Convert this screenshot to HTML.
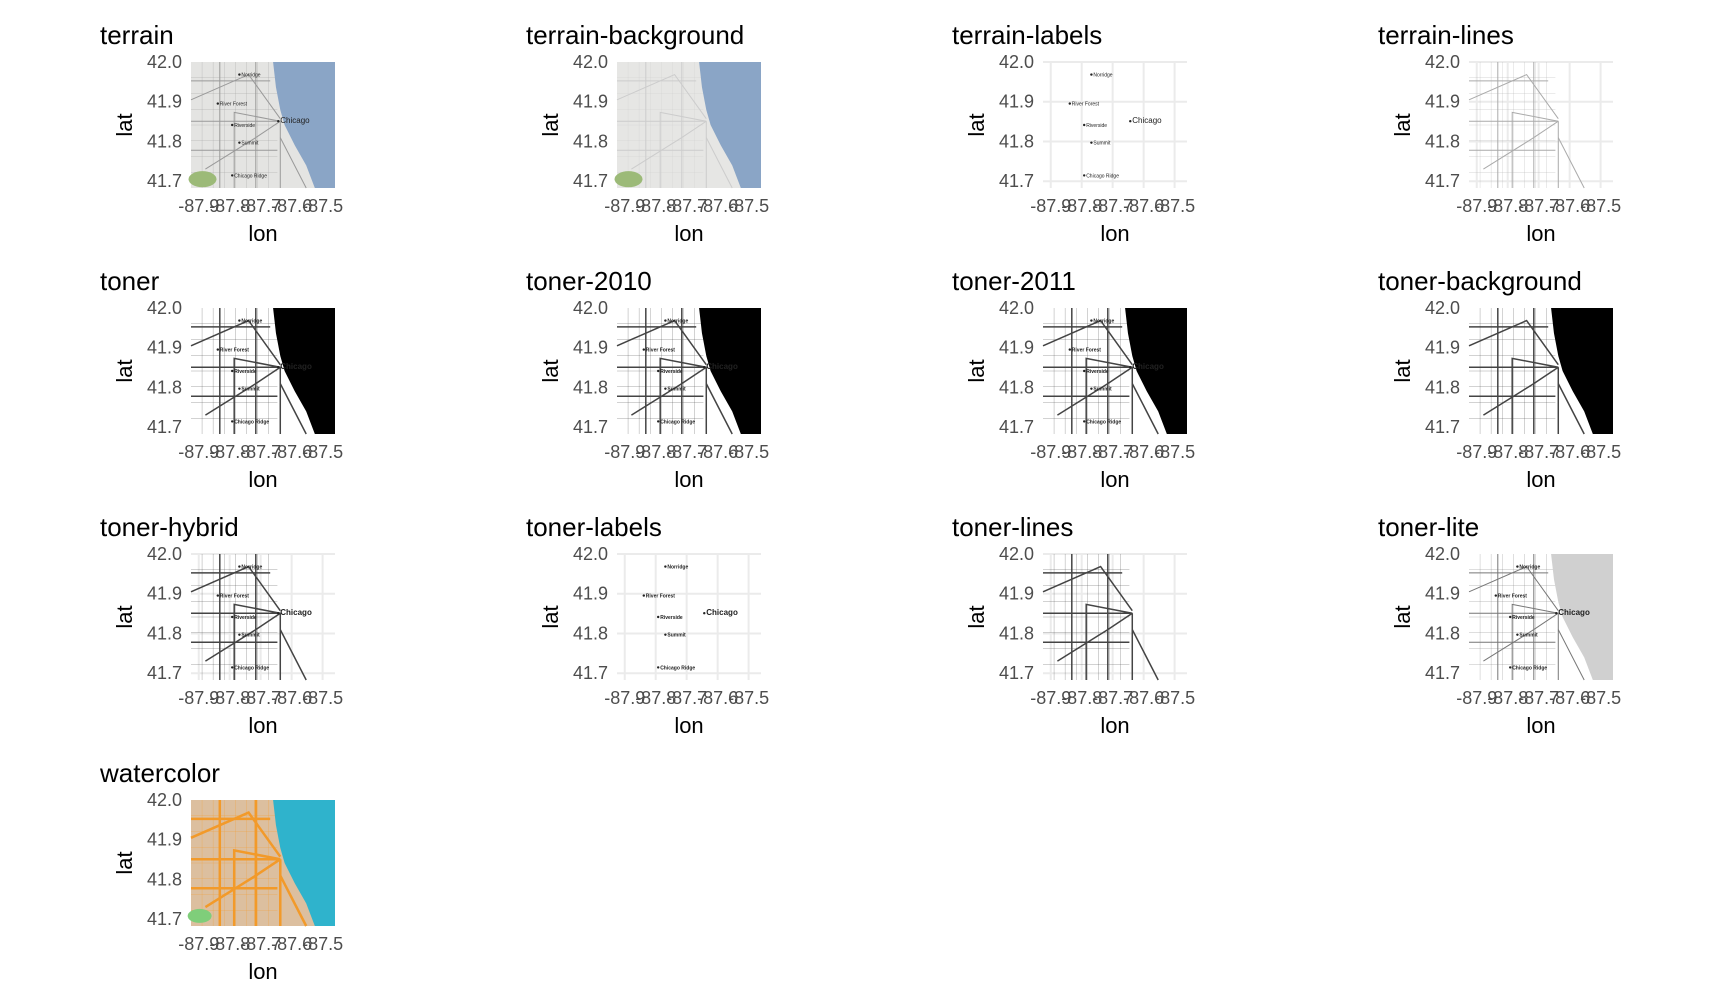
<!DOCTYPE html>
<html><head><meta charset="utf-8">
<style>
html,body{margin:0;padding:0;background:#fff;}
body{width:1728px;height:1008px;position:relative;overflow:hidden;font-family:"Liberation Sans",Arial,sans-serif;}
svg{position:absolute;left:0;top:0;}
</style></head>
<body>
<svg id="chart" width="1728" height="1008" viewBox="0 0 1728 1008"></svg>
<script>
const panelNames = ["terrain","terrain-background","terrain-labels","terrain-lines","toner","toner-2010","toner-2011","toner-background","toner-hybrid","toner-labels","toner-lines","toner-lite","watercolor"];
const latTicks = [42.0, 41.9, 41.8, 41.7];
const lonTicks = [-87.9, -87.8, -87.7, -87.6, -87.5];
const latRange = [41.683, 42.0];
const lonRange = [-87.925, -87.46];
const shore = [[0.57,0],[0.59,0.2],[0.62,0.38],[0.65,0.5],[0.72,0.66],[0.80,0.82],[0.86,1]];
const roads = [[[0,0.3],[0.4,0.1],[0.62,0.45]],[[0.0,0.47],[0.62,0.47]],[[0.1,0.85],[0.45,0.6],[0.62,0.47]],[[0.62,0.47],[0.62,1]],[[0.62,0.6],[0.8,1]],[[0.2,0],[0.2,1]],[[0.45,0],[0.45,1]],[[0,0.7],[0.6,0.7]],[[0,0.15],[0.55,0.15]],[[0.3,1],[0.3,0.4],[0.62,0.47]]];
const cities = [["Norridge",0.35,0.1],["River Forest",0.2,0.33],["Riverside",0.3,0.5],["Summit",0.35,0.64],["Chicago",0.62,0.47],["Chicago Ridge",0.3,0.9]];

const NS="http://www.w3.org/2000/svg";
const svg=document.getElementById('chart');
function mk(tag,attrs,parent){const e=document.createElementNS(NS,tag);for(const k in attrs)e.setAttribute(k,attrs[k]);(parent||svg).appendChild(e);return e;}
const colX0=191, colDX=426, rowY0=62, rowDY=246, MW=144, MH=126;

panelNames.forEach((name,i)=>{
  const col=i%4,row=Math.floor(i/4);
  const px=colX0+col*colDX, py=rowY0+row*rowDY;
  const g=mk('g',{});
  
  
  const xs=lon=>px+(lon-lonRange[0])/(lonRange[1]-lonRange[0])*MW;
  const ys=lat=>py+(latRange[1]-lat)/(latRange[1]-latRange[0])*MH;
  const fx=f=>px+f*MW, fy=f=>py+f*MH;
  const t=mk('text',{x:px-91,y:py-18,'font-size':26,fill:'#000'},g);t.textContent=name;
  
  let bg='#fff',lake=null,road='#999',roadW=1,label=false,grid=false;
  if(name==='terrain'){bg='#e4e4e2';lake='#8aa5c6';road='#999';label=true;}
  else if(name==='terrain-background'){bg='#e6e6e4';lake='#8aa5c6';road='#ccc';}
  else if(name==='terrain-labels'){grid=true;label=true;road=null;}
  else if(name==='terrain-lines'){grid=true;road='#aaa';}
  else if(['toner','toner-2010','toner-2011'].includes(name)){lake='#000';road='#444';roadW=1.5;label=true;}
  else if(name==='toner-background'){lake='#000';road='#444';roadW=1.5;}
  else if(name==='toner-hybrid'){grid=true;road='#444';roadW=1.5;label=true;}
  else if(name==='toner-labels'){grid=true;road=null;label=true;}
  else if(name==='toner-lines'){grid=true;road='#444';roadW=1.5;}
  else if(name==='toner-lite'){lake='#d0d0d0';road='#777';label=true;}
  else if(name==='watercolor'){bg='#dcbf9f';lake='#2fb3cc';road='#f29a2a';roadW=2.5;}
  const m=mk('rect',{x:px,y:py,width:MW,height:MH,fill:bg},g);
  
  if(grid){
    latTicks.forEach(v=>mk('line',{x1:px,x2:px+MW,y1:ys(v),y2:ys(v),stroke:'#ebebeb','stroke-width':2},g));
    lonTicks.forEach(v=>mk('line',{x1:xs(v),x2:xs(v),y1:py,y2:py+MH,stroke:'#ebebeb','stroke-width':2},g));
  }
  if(road){
    for(let k=1;k<8;k++){mk('line',{x1:px,x2:fx(0.6),y1:fy(k/8),y2:fy(k/8),stroke:road,'stroke-width':0.4,opacity:0.6},g);mk('line',{x1:fx(k/13),x2:fx(k/13),y1:py,y2:py+MH,stroke:road,'stroke-width':0.4,opacity:0.6},g);}
    roads.forEach(r=>mk('polyline',{points:r.map(p=>fx(p[0])+','+fy(p[1])).join(' '),fill:'none',stroke:road,'stroke-width':roadW},g));
  }
  if(lake){
    const pts=shore.map(p=>fx(p[0])+','+fy(p[1])).join(' ')+' '+(px+MW)+','+(py+MH)+' '+(px+MW)+','+py;
    const l=mk('polygon',{points:pts,fill:lake},g);
    
  }
  if(name==='watercolor'){mk('ellipse',{cx:fx(0.06),cy:fy(0.92),rx:12,ry:7,fill:'#7fce7a'},g);}
  if(name==='terrain'||name==='terrain-background'){mk('ellipse',{cx:fx(0.08),cy:fy(0.93),rx:14,ry:8,fill:'#9cba78'},g);}
  if(label){
    cities.forEach(c=>{mk('circle',{cx:fx(c[1])-2,cy:fy(c[2]),r:1.2,fill:'#222'},g);
      const ct=mk('text',{x:fx(c[1]),y:fy(c[2])+2,'font-size':c[0]==='Chicago'?8:5,fill:'#222','font-weight':name.startsWith('toner')?'bold':'normal'},g);ct.textContent=c[0];});
  }
  latTicks.forEach(v=>{const tt=mk('text',{x:px-9,y:ys(v)+6,'font-size':18,fill:'#4d4d4d','text-anchor':'end'},g);tt.textContent=v.toFixed(1);
    });
  lonTicks.forEach(v=>{const tt=mk('text',{x:xs(v),y:py+MH+24,'font-size':18,fill:'#4d4d4d','text-anchor':'middle'},g);tt.textContent=v.toFixed(1);
    });
  const yl=mk('text',{x:0,y:0,'font-size':22,fill:'#000','text-anchor':'middle',transform:`translate(${px-59},${py+MH/2}) rotate(-90)`},g);yl.textContent='lat';
  
  const xl=mk('text',{x:px+MW/2,y:py+MH+53,'font-size':22,fill:'#000','text-anchor':'middle'},g);xl.textContent='lon';
  
});
</script>
</body></html>
